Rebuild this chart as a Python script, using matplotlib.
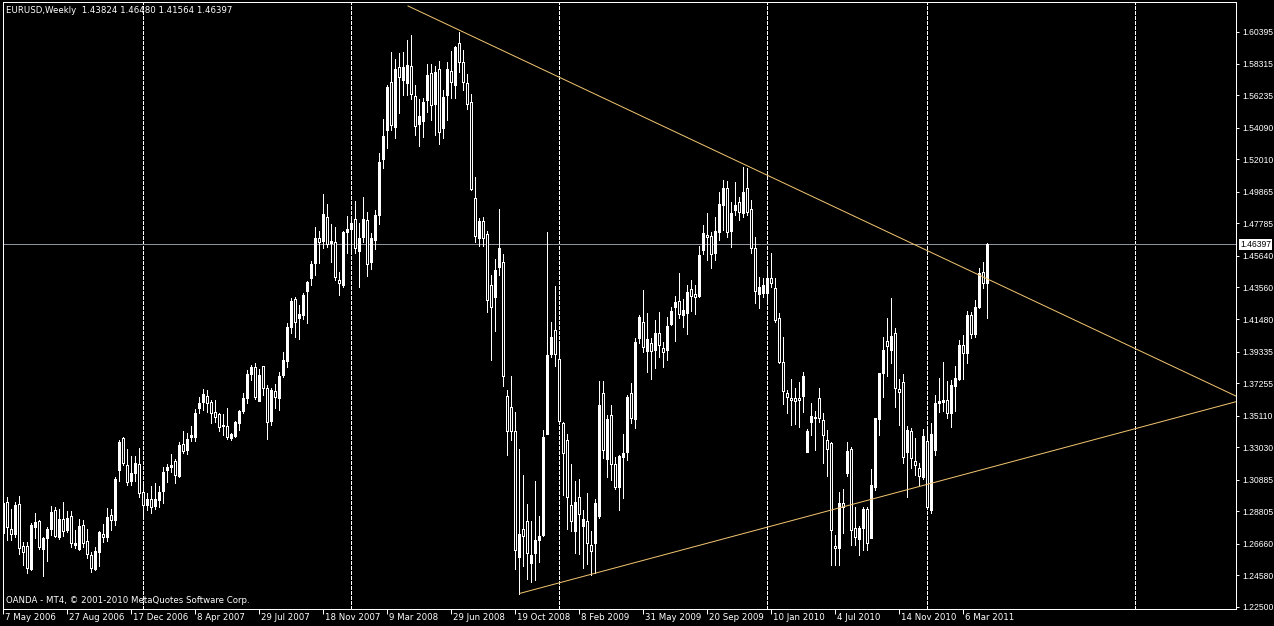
import matplotlib
matplotlib.use("Agg")
import matplotlib.pyplot as plt
import matplotlib.transforms as mtransforms
from matplotlib.patches import Rectangle
import numpy as np

# weekly EURUSD candles, one value per bar (bar 0 = 7 May 2006)
opens = [
    1.2740, 1.2944, 1.2762, 1.2731, 1.2927, 1.2652, 1.2652, 1.2500, 1.2779, 1.2817,
    1.2632, 1.2703, 1.2764, 1.2889, 1.2714, 1.2830, 1.2757, 1.2850, 1.2659, 1.2632,
    1.2788, 1.2685, 1.2593, 1.2498, 1.2615, 1.2731, 1.2714, 1.2856, 1.2823, 1.3153,
    1.3362, 1.3186, 1.3083, 1.3135, 1.3190, 1.3010, 1.2922, 1.2960, 1.2916, 1.2955,
    1.3017, 1.3153, 1.3175, 1.3212, 1.3113, 1.3324, 1.3285, 1.3373, 1.3373, 1.3559,
    1.3603, 1.3640, 1.3599, 1.3533, 1.3522, 1.3443, 1.3443, 1.3361, 1.3377, 1.3465,
    1.3544, 1.3625, 1.3786, 1.3834, 1.3610, 1.3838, 1.3691, 1.3478, 1.3676, 1.3629,
    1.3779, 1.3873, 1.4093, 1.4280, 1.4152, 1.4174, 1.4335, 1.4416, 1.4515, 1.4680,
    1.4664, 1.4822, 1.4651, 1.4653, 1.4405, 1.4372, 1.4723, 1.4741, 1.4805, 1.4598,
    1.4690, 1.4800, 1.4526, 1.4669, 1.4833, 1.5202, 1.5393, 1.5708, 1.5411, 1.5806,
    1.5723, 1.5704, 1.5814, 1.5618, 1.5431, 1.5455, 1.5594, 1.5770, 1.5562, 1.5794,
    1.5404, 1.5626, 1.5782, 1.5692, 1.5965, 1.5845, 1.5704, 1.5577, 1.4943, 1.4685,
    1.4794, 1.4709, 1.4375, 1.4290, 1.4490, 1.4521, 1.3639, 1.3571, 1.3407, 1.2578,
    1.2761, 1.2815, 1.2539, 1.2608, 1.2693, 1.2722, 1.3388, 1.3917, 1.4075, 1.3883,
    1.3461, 1.3351, 1.2920, 1.2749, 1.2973, 1.2786, 1.2820, 1.2661, 1.2669, 1.2852,
    1.3658, 1.3223, 1.3515, 1.3192, 1.3038, 1.3241, 1.3274, 1.3658, 1.3487, 1.4020,
    1.4130, 1.3937, 1.3988, 1.3944, 1.4058, 1.3955, 1.3944, 1.4115, 1.4229, 1.4269,
    1.4174, 1.4185, 1.4343, 1.4313, 1.4302, 1.4603, 1.4702, 1.4695, 1.4581, 1.4724,
    1.4900, 1.5009, 1.4730, 1.4866, 1.4921, 1.4844, 1.5009, 1.4871, 1.4614, 1.4311,
    1.4321, 1.4321, 1.4416, 1.4350, 1.4152, 1.3862, 1.3658, 1.3625, 1.3627, 1.3629,
    1.3640, 1.3269, 1.3471, 1.3498, 1.3625, 1.3482, 1.3350, 1.3333, 1.2652, 1.2641,
    1.2933, 1.3131, 1.3289, 1.2768, 1.2698, 1.2768, 1.2896, 1.2702, 1.3043, 1.3487,
    1.3790, 1.4003, 1.3944, 1.4053, 1.3684, 1.3735, 1.3274, 1.3410, 1.3212, 1.3164,
    1.3109, 1.3344, 1.2889, 1.3285, 1.3592, 1.3599, 1.3614, 1.3531, 1.3709, 1.3750,
    1.3977, 1.3922, 1.4174, 1.4049, 1.4225, 1.4460, 1.43824,
]
highs = [
    1.2966, 1.2977, 1.2894, 1.2940, 1.2982, 1.2676, 1.2681, 1.2801, 1.2867, 1.2823,
    1.2714, 1.2775, 1.2916, 1.2911, 1.2894, 1.2942, 1.2883, 1.2883, 1.2757, 1.2828,
    1.2823, 1.2764, 1.2615, 1.2643, 1.2751, 1.2797, 1.2905, 1.2894, 1.3109, 1.3351,
    1.3373, 1.3291, 1.3245, 1.3245, 1.3296, 1.3072, 1.2999, 1.3047, 1.3065, 1.3047,
    1.3170, 1.3190, 1.3258, 1.3223, 1.3340, 1.3410, 1.3395, 1.3443, 1.3553, 1.3636,
    1.3685, 1.3680, 1.3614, 1.3614, 1.3530, 1.3519, 1.3559, 1.3394, 1.3478, 1.3548,
    1.3658, 1.3812, 1.3845, 1.3856, 1.3816, 1.3838, 1.3713, 1.3691, 1.3720, 1.3801,
    1.3933, 1.4124, 1.4284, 1.4291, 1.4240, 1.4321, 1.4400, 1.4532, 1.4756, 1.4730,
    1.4972, 1.4906, 1.4774, 1.4756, 1.4460, 1.4730, 1.4827, 1.4822, 1.4925, 1.4778,
    1.4954, 1.4851, 1.4712, 1.4866, 1.5244, 1.5466, 1.5690, 1.5905, 1.5859, 1.5903,
    1.5910, 1.5990, 1.6019, 1.5692, 1.5599, 1.5606, 1.5826, 1.5826, 1.5814, 1.5850,
    1.5655, 1.5845, 1.5911, 1.5948, 1.6040, 1.5923, 1.5765, 1.5631, 1.5082, 1.4814,
    1.4819, 1.4729, 1.4436, 1.4546, 1.4870, 1.4577, 1.3680, 1.3771, 1.3534, 1.3290,
    1.3120, 1.2929, 1.2815, 1.3083, 1.2851, 1.3417, 1.4721, 1.4131, 1.4368, 1.3985,
    1.3466, 1.3393, 1.3193, 1.3083, 1.3095, 1.2888, 1.2998, 1.2754, 1.2961, 1.3741,
    1.3742, 1.3515, 1.3581, 1.3241, 1.3252, 1.3390, 1.3647, 1.3724, 1.4020, 1.4174,
    1.4339, 1.4185, 1.4021, 1.4141, 1.4196, 1.3999, 1.4163, 1.4225, 1.4300, 1.4449,
    1.4278, 1.4372, 1.4405, 1.4372, 1.4629, 1.4767, 1.4844, 1.4723, 1.4822, 1.4987,
    1.5064, 1.5059, 1.4921, 1.5049, 1.4954, 1.5152, 1.5141, 1.4932, 1.4686, 1.4427,
    1.4416, 1.4493, 1.4581, 1.4416, 1.4190, 1.4027, 1.3680, 1.3750, 1.3691, 1.3735,
    1.3796, 1.3421, 1.3592, 1.3544, 1.3691, 1.3526, 1.3416, 1.3339, 1.2724, 1.3010,
    1.3025, 1.3339, 1.3307, 1.2911, 1.2784, 1.2907, 1.2907, 1.3157, 1.3493, 1.3790,
    1.4027, 1.4152, 1.4284, 1.4086, 1.3750, 1.3785, 1.3443, 1.3427, 1.3361, 1.3201,
    1.3421, 1.3427, 1.3460, 1.3647, 1.3757, 1.3862, 1.3742, 1.3746, 1.3838, 1.4009,
    1.4042, 1.4203, 1.4196, 1.4273, 1.4482, 1.4521, 1.46480,
]
lows = [
    1.2659, 1.2692, 1.2692, 1.2714, 1.2597, 1.2527, 1.2476, 1.2494, 1.2707, 1.2630,
    1.2457, 1.2555, 1.2725, 1.2714, 1.2696, 1.2720, 1.2742, 1.2648, 1.2637, 1.2626,
    1.2648, 1.2575, 1.2483, 1.2494, 1.2520, 1.2676, 1.2685, 1.2757, 1.2790, 1.3083,
    1.3186, 1.3054, 1.3054, 1.3083, 1.2977, 1.2856, 1.2889, 1.2872, 1.2894, 1.2911,
    1.2938, 1.3076, 1.3142, 1.3065, 1.3105, 1.3267, 1.3256, 1.3346, 1.3344, 1.3526,
    1.3548, 1.3537, 1.3460, 1.3471, 1.3412, 1.3383, 1.3355, 1.3350, 1.3368, 1.3416,
    1.3526, 1.3592, 1.3746, 1.3619, 1.3610, 1.3647, 1.3355, 1.3449, 1.3559, 1.3548,
    1.3768, 1.3829, 1.4053, 1.4032, 1.4014, 1.4146, 1.4124, 1.4372, 1.4438, 1.4519,
    1.4614, 1.4625, 1.4526, 1.4405, 1.4306, 1.4361, 1.4581, 1.4581, 1.4585, 1.4361,
    1.4658, 1.4431, 1.4475, 1.4607, 1.4774, 1.5145, 1.5273, 1.5393, 1.5343, 1.5508,
    1.5624, 1.5624, 1.5600, 1.5362, 1.5289, 1.5350, 1.5509, 1.5460, 1.5362, 1.5302,
    1.5338, 1.5460, 1.5606, 1.5606, 1.5777, 1.5655, 1.5533, 1.4997, 1.4656, 1.4631,
    1.4631, 1.4192, 1.3880, 1.4070, 1.4436, 1.3705, 1.3254, 1.3351, 1.2498, 1.2334,
    1.2522, 1.2432, 1.2413, 1.2425, 1.2547, 1.2717, 1.3388, 1.3900, 1.3839, 1.3461,
    1.2986, 1.2766, 1.2754, 1.2608, 1.2596, 1.2510, 1.2535, 1.2461, 1.2474, 1.2839,
    1.3230, 1.3109, 1.3087, 1.3025, 1.2889, 1.2966, 1.3219, 1.3460, 1.3428, 1.3988,
    1.3933, 1.3801, 1.3750, 1.3823, 1.3900, 1.3834, 1.3878, 1.4108, 1.4005, 1.4152,
    1.4093, 1.4047, 1.4201, 1.4179, 1.4295, 1.4577, 1.4537, 1.4482, 1.4537, 1.4669,
    1.4734, 1.4686, 1.4625, 1.4833, 1.4800, 1.4822, 1.4833, 1.4581, 1.4256, 1.4218,
    1.4295, 1.4251, 1.4361, 1.4130, 1.3856, 1.3588, 1.3526, 1.3449, 1.3456, 1.3434,
    1.3537, 1.3269, 1.3383, 1.3285, 1.3471, 1.3201, 1.3113, 1.2527, 1.2527, 1.2527,
    1.2735, 1.3113, 1.2658, 1.2658, 1.2593, 1.2626, 1.2626, 1.2702, 1.3021, 1.3383,
    1.3636, 1.3772, 1.3860, 1.3570, 1.3450, 1.3201, 1.2973, 1.3164, 1.3120, 1.3054,
    1.3091, 1.2894, 1.2872, 1.3252, 1.3537, 1.3544, 1.3493, 1.3434, 1.3544, 1.3746,
    1.3750, 1.3856, 1.4020, 1.4027, 1.4218, 1.4350, 1.41564,
]
closes = [
    1.2933, 1.2775, 1.2731, 1.2922, 1.2641, 1.2615, 1.2509, 1.2790, 1.2808, 1.2648,
    1.2703, 1.2764, 1.2874, 1.2720, 1.2830, 1.2753, 1.2834, 1.2674, 1.2674, 1.2784,
    1.2674, 1.2597, 1.2509, 1.2619, 1.2744, 1.2714, 1.2845, 1.2823, 1.3094, 1.3340,
    1.3201, 1.3076, 1.3131, 1.3201, 1.2999, 1.2922, 1.2962, 1.2911, 1.2960, 1.3010,
    1.3142, 1.3175, 1.3186, 1.3120, 1.3318, 1.3278, 1.3358, 1.3384, 1.3526, 1.3595,
    1.3654, 1.3592, 1.3526, 1.3504, 1.3438, 1.3449, 1.3372, 1.3390, 1.3471, 1.3542,
    1.3629, 1.3786, 1.3829, 1.3636, 1.3779, 1.3691, 1.3471, 1.3680, 1.3632, 1.3772,
    1.3878, 1.4098, 1.4269, 1.4130, 1.4181, 1.4306, 1.4394, 1.4510, 1.4680, 1.4658,
    1.4840, 1.4642, 1.4664, 1.4427, 1.4383, 1.4723, 1.4739, 1.4783, 1.4618, 1.4680,
    1.4805, 1.4508, 1.4680, 1.4833, 1.5180, 1.5354, 1.5679, 1.5426, 1.5793, 1.5740,
    1.5806, 1.5821, 1.5631, 1.5423, 1.5484, 1.5577, 1.5758, 1.5558, 1.5777, 1.5380,
    1.5611, 1.5794, 1.5709, 1.5940, 1.5845, 1.5709, 1.5562, 1.5002, 1.4692, 1.4794,
    1.4680, 1.4270, 1.4224, 1.4468, 1.4614, 1.3771, 1.3407, 1.3407, 1.2625, 1.2729,
    1.2717, 1.2608, 1.2595, 1.2693, 1.2717, 1.3371, 1.3912, 1.4029, 1.3919, 1.3473,
    1.3266, 1.2973, 1.2815, 1.2942, 1.2864, 1.2832, 1.2669, 1.2617, 1.2937, 1.3583,
    1.3285, 1.3487, 1.3192, 1.3043, 1.3245, 1.3267, 1.3636, 1.3493, 1.3999, 1.4163,
    1.3966, 1.4014, 1.3937, 1.4058, 1.3977, 1.3933, 1.4102, 1.4203, 1.4258, 1.4181,
    1.4207, 1.4328, 1.4302, 1.4295, 1.4570, 1.4713, 1.4686, 1.4576, 1.4728, 1.4906,
    1.5009, 1.4723, 1.4849, 1.4899, 1.4855, 1.4987, 1.4855, 1.4614, 1.4335, 1.4361,
    1.4372, 1.4416, 1.4387, 1.4141, 1.3862, 1.3676, 1.3632, 1.3614, 1.3605, 1.3614,
    1.3772, 1.3412, 1.3509, 1.3502, 1.3493, 1.3383, 1.3289, 1.2757, 1.2641, 1.2933,
    1.2911, 1.3280, 1.2757, 1.2709, 1.2768, 1.2896, 1.2674, 1.3054, 1.3493, 1.3790,
    1.3944, 1.3970, 1.4036, 1.3691, 1.3669, 1.3241, 1.3416, 1.3230, 1.3186, 1.3113,
    1.3377, 1.2907, 1.3388, 1.3592, 1.3608, 1.3614, 1.3531, 1.3713, 1.3757, 1.3977,
    1.3922, 1.4174, 1.4049, 1.4225, 1.4449, 1.4383, 1.46397,
]

# date labels every 16 bars
date_ticks = list(range(0, 241, 16))
date_labels = ["7 May 2006", "27 Aug 2006", "17 Dec 2006", "8 Apr 2007",
               "29 Jul 2007", "18 Nov 2007", "9 Mar 2008", "29 Jun 2008",
               "19 Oct 2008", "8 Feb 2009", "31 May 2009", "20 Sep 2009",
               "10 Jan 2010", "4 Jul 2010", "14 Nov 2010", "6 Mar 2011"]
# first bar of each year (grid)
year_bars = [35, 87, 139, 191, 231, 283]
price_ticks = [1.22500, 1.24580, 1.26660, 1.28805, 1.30885, 1.33030, 1.35110,
               1.37255, 1.39335, 1.41480, 1.43560, 1.45640, 1.47785, 1.49865,
               1.52010, 1.54090, 1.56235, 1.58315, 1.60395]
last_price = 1.46397
# trend lines: (bar, price) anchors
upper_line = ([101.25, 308.25], [1.6211, 1.3640])
lower_line = ([129.25, 308.25], [1.2340, 1.3603])

W, H = 1274, 626
px = 0.72  # one pixel in points at dpi 100
fig = plt.figure(figsize=(W / 100, H / 100), dpi=100, facecolor="black")
ax = fig.add_axes([2.5 / W, 1 - 609 / H, (1236 - 2.5) / W, 607 / H])
ax.set_facecolor("black")
ax.set_xlim(-0.125, 308.25)
ax.set_ylim(1.22368, 1.62372)

# year grid
for b in year_bars:
    ax.axvline(b, color="white", lw=px, ls=(0, (3, 2)), zorder=1, antialiased=False)

# current price line
ax.axhline(last_price, color="#8e929c", lw=px, zorder=1, antialiased=False)

# candles
idx = np.arange(len(closes))
ax.vlines(idx, lows, highs, color="white", lw=px, zorder=2, antialiased=False)
for i in idx:
    o, c = opens[i], closes[i]
    bull = c >= o
    ax.add_patch(Rectangle((i - 0.25, min(o, c)), 0.5, abs(c - o),
                           facecolor="white" if bull else "black",
                           edgecolor="white", lw=px, zorder=3, antialiased=False))

# trend lines
for xs, ys in (upper_line, lower_line):
    ax.plot(xs, ys, color="#f0c470", lw=px, zorder=4)

for s in ax.spines.values():
    s.set_color("white")
    s.set_linewidth(px)

# axes ticks
ax.set_xticks(date_ticks, date_labels)
ax.tick_params(axis="x", direction="out", length=5 * px, width=px, colors="white",
               labelsize=6.2, pad=-1.5 * px)
offset = mtransforms.ScaledTranslation(2 / 100, 0, fig.dpi_scale_trans)
for lbl in ax.get_xticklabels():
    lbl.set_horizontalalignment("left")
    lbl.set_transform(lbl.get_transform() + offset)

ax.yaxis.tick_right()
ax.set_yticks(price_ticks, [f"{p:.5f}" for p in price_ticks])
ax.tick_params(axis="y", direction="out", length=3 * px, width=px, colors="white",
               labelsize=6.2, pad=3 * px)
for lbl in ax.get_yticklabels():
    lbl.set_family("Liberation Sans")

# price box on the right
ax.annotate(f"{last_price:.5f}", xy=(1, last_price),
            xycoords=("axes fraction", "data"), xytext=(4, 0),
            textcoords="offset pixels", ha="left", va="center", fontsize=6.2,
            family="Liberation Sans", color="black", zorder=6,
            bbox=dict(boxstyle="square,pad=0.15", facecolor="white", edgecolor="none"))

# texts
ax.annotate("EURUSD,Weekly  1.43824 1.46480 1.41564 1.46397", xy=(0, 1),
            xycoords="axes fraction", xytext=(4, -4), textcoords="offset pixels",
            ha="left", va="top", fontsize=6.2, color="white")
ax.annotate("OANDA - MT4, \u00a9 2001-2010 MetaQuotes Software Corp.", xy=(0, 0),
            xycoords="axes fraction", xytext=(4, 4), textcoords="offset pixels",
            ha="left", va="bottom", fontsize=6.2, color="white")

fig.savefig("out.png", dpi=100, facecolor="black")
